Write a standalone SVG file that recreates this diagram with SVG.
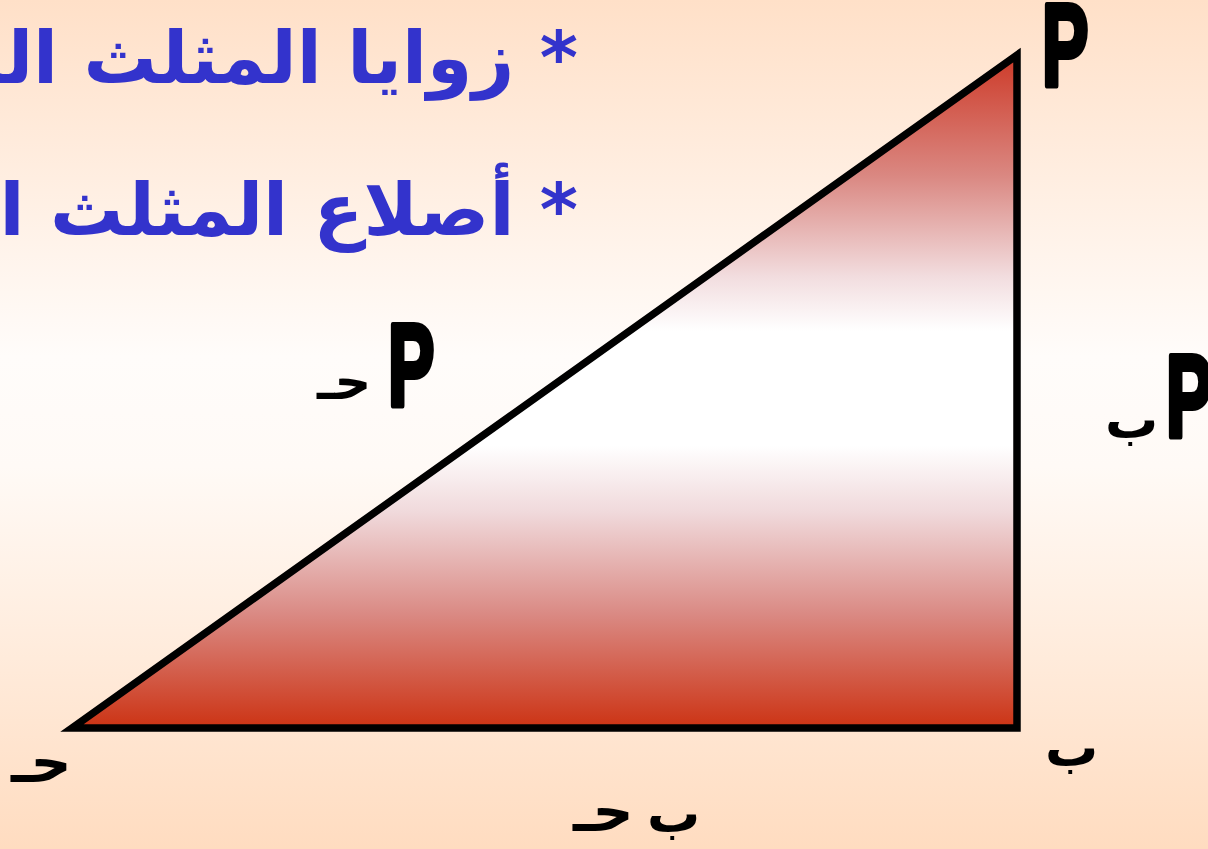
<svg xmlns="http://www.w3.org/2000/svg" width="1208" height="849" viewBox="0 0 1208 849">
<defs>
<linearGradient id="bg" x1="0" y1="0" x2="0" y2="1">
<stop offset="0" stop-color="#FFE0C8"/>
<stop offset="0.42" stop-color="#FFFCFA"/>
<stop offset="0.55" stop-color="#FFFAF6"/>
<stop offset="1" stop-color="#FFDCC0"/>
</linearGradient>
<linearGradient id="tri" x1="0" y1="0" x2="0" y2="1">
<stop offset="0" stop-color="#CD3A28"/>
<stop offset="0.18" stop-color="#DA8882"/>
<stop offset="0.33" stop-color="#F2DDDF"/>
<stop offset="0.41" stop-color="#FFFFFF"/>
<stop offset="0.58" stop-color="#FFFFFF"/>
<stop offset="0.68" stop-color="#F0D9DB"/>
<stop offset="0.83" stop-color="#DA8A84"/>
<stop offset="1" stop-color="#CC3314"/>
</linearGradient>
<style>
.title{font-family:"DejaVu Sans",sans-serif;font-weight:bold;font-size:73px;fill:#3333CC}
.lbl{font-family:"DejaVu Sans",sans-serif;font-weight:bold;fill:#000}
.p{font-family:"Liberation Sans",Arial,sans-serif;font-weight:bold;font-size:116px;fill:#000;stroke:#000;stroke-width:6;stroke-linejoin:round}
</style>
</defs>
<rect width="1208" height="849" fill="url(#bg)"/>
<g id="titles">
<text class="title" x="578" y="83" text-anchor="start" direction="rtl">* زوايا المثلث الثلاث</text>
<text class="title" x="578" y="235" text-anchor="start" direction="rtl">* أصلاع المثلث الثلاثة</text>
</g>
<g id="connectors">
<polygon id="triangle" points="72,728 1017,55 1017,728" fill="url(#tri)" stroke="#000" stroke-width="7.5" stroke-linejoin="miter" stroke-miterlimit="10"/>
</g>
<g id="vertex-a"><text class="p" transform="translate(1042,85) scale(0.6,1)">P</text></g>
<g id="vertex-b"><text class="lbl" x="1045" y="766" font-size="53">ب</text></g>
<g id="vertex-c"><text class="lbl" x="11" y="782" font-size="57">حـ</text></g>
<g id="side-ac"><text class="p" transform="translate(388,405) scale(0.6,1)">P</text><text class="lbl" x="317" y="399" font-size="51">حـ</text></g>
<g id="side-ab"><text class="p" transform="translate(1166,436) scale(0.6,1)">P</text><text class="lbl" x="1105" y="438" font-size="53">ب</text></g>
<g id="side-bc"><text class="lbl" x="647" y="832" font-size="53">ب</text><text class="lbl" x="573" y="831" font-size="57">حـ</text></g>
</svg>
